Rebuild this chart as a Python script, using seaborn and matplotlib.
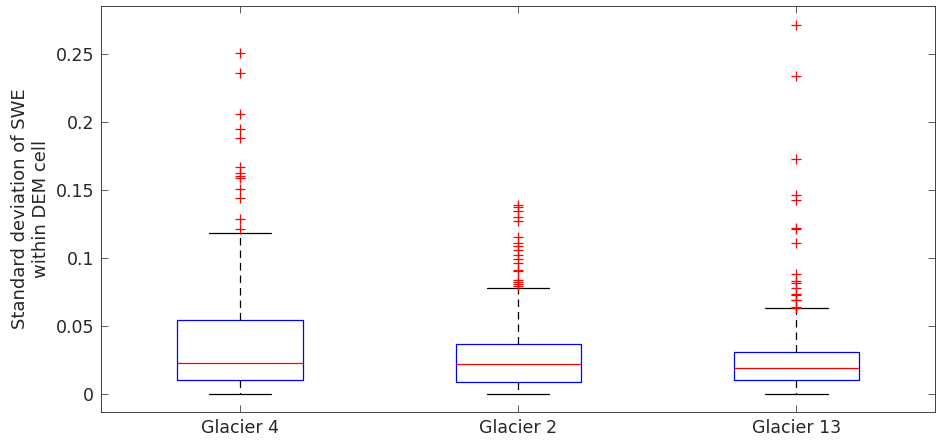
import matplotlib
matplotlib.use("Agg")
import pandas as pd
import matplotlib.pyplot as plt
import seaborn as sns

# =====================================================
# DATA
# =====================================================
glaciers = ["Glacier 4", "Glacier 2", "Glacier 13"]

whisker_lo = [0.0, 0.0, 0.0]
q1 = [0.0103, 0.0088, 0.0103]
median = [0.0228, 0.0221, 0.0189]
q3 = [0.0544, 0.0368, 0.0311]
whisker_hi = [0.1181, 0.0777, 0.0632]

outliers_g4 = [0.2505, 0.2360, 0.2056, 0.1950, 0.1885, 0.1667, 0.1628,
               0.1603, 0.1586, 0.1505, 0.1439, 0.1287, 0.1216]
outliers_g2 = [0.1390, 0.1377, 0.1346, 0.1304, 0.1274, 0.1157, 0.1108,
               0.1090, 0.1059, 0.1025, 0.0995, 0.0961, 0.0910, 0.0902,
               0.0838, 0.0824, 0.0809, 0.0797]
outliers_g13 = [0.2716, 0.2336, 0.1725, 0.1461, 0.1424, 0.1220, 0.1213,
                0.1108, 0.0882, 0.0833, 0.0818, 0.0779, 0.0738, 0.0725,
                0.0694, 0.0690, 0.0642, 0.0635]

y_ticks = [0, 0.05, 0.1, 0.15, 0.2, 0.25]
y_tick_labels = ["0", "0.05", "0.1", "0.15", "0.2", "0.25"]

# =====================================================
# STYLE
# =====================================================
sns.set_style("white")
plt.rcParams["font.family"] = ["DejaVu Sans"]
text_col = "#262626"

fig = plt.figure(figsize=(9.37, 4.46), dpi=100)
ax = fig.add_axes([0.1078, 0.0762, 0.8905, 0.9103])

# =====================================================
# BOXES (stats from the lists above)
# =====================================================
stats = []
for i, g in enumerate(glaciers):
    stats.append({
        "label": g,
        "whislo": whisker_lo[i],
        "q1": q1[i],
        "med": median[i],
        "q3": q3[i],
        "whishi": whisker_hi[i],
        "fliers": [],
    })

ax.bxp(
    stats,
    positions=range(len(glaciers)),
    widths=0.45,
    showfliers=False,
    boxprops=dict(color="blue", linewidth=0.9),
    medianprops=dict(color="red", linewidth=0.9),
    whiskerprops=dict(color="black", linewidth=0.9, linestyle=(0, (6, 4))),
    capprops=dict(color="black", linewidth=0.9),
    capwidths=0.225,
    manage_ticks=False,
)

# =====================================================
# OUTLIERS
# =====================================================
out_df = pd.DataFrame({
    "Glacier": ["Glacier 4"] * len(outliers_g4)
    + ["Glacier 2"] * len(outliers_g2)
    + ["Glacier 13"] * len(outliers_g13),
    "Value": outliers_g4 + outliers_g2 + outliers_g13,
})

sns.stripplot(
    data=out_df,
    x="Glacier",
    y="Value",
    order=glaciers,
    jitter=False,
    marker="+",
    color="red",
    s=6.5,
    linewidth=0.9,
    ax=ax,
)

# =====================================================
# AXES
# =====================================================
ax.set_xlim(-0.5, 2.5)
ax.set_ylim(-0.0132, 0.2853)
ax.set_xticks(range(len(glaciers)))
ax.set_xticklabels(glaciers, fontsize=12.5, color=text_col)
ax.set_yticks(y_ticks)
ax.set_yticklabels(y_tick_labels, fontsize=12.5, color=text_col)
ax.set_xlabel("")
ax.set_ylabel("Standard deviation of SWE\nwithin DEM cell", fontsize=13,
              color=text_col, labelpad=4, multialignment="center")

ax.tick_params(direction="in", length=5, width=0.6, color="#404040",
               top=True, right=True, bottom=True, left=True, pad=5)
for sp in ax.spines.values():
    sp.set_visible(True)
    sp.set_color("#404040")
    sp.set_linewidth(0.7)

fig.savefig("out.png", dpi=100)
plt.close(fig)
